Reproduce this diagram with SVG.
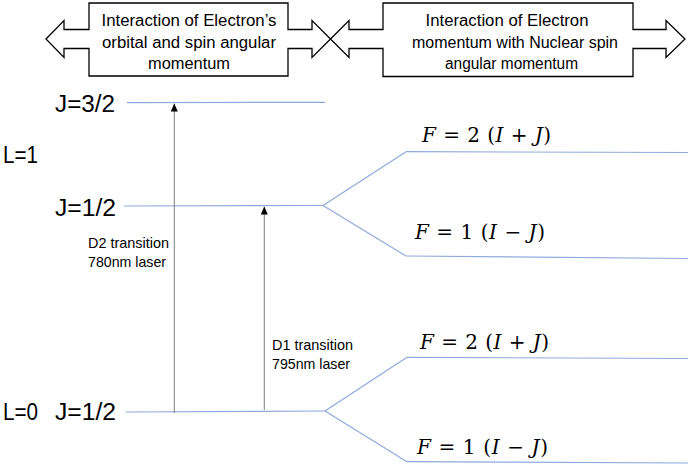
<svg xmlns="http://www.w3.org/2000/svg" width="688" height="467" viewBox="0 0 688 467">
<style>
.callout{fill:#fff;stroke:#000;stroke-width:1.3;stroke-linejoin:miter}
.ct{font-family:"Liberation Sans",Arial,sans-serif;font-size:16px;fill:#000;text-anchor:middle}
.lvl{fill:none;stroke:#8FAADC;stroke-width:1.2}
.big{font-family:"Liberation Sans",Arial,sans-serif;font-size:23px;fill:#000}
.small{font-family:"Liberation Sans",Arial,sans-serif;font-size:15px;fill:#000}
.math{font-family:"DejaVu Serif","Liberation Serif",serif;font-size:20px;fill:#000}
.it{font-style:italic}
.arr{stroke:#7F7F7F;stroke-width:1;fill:none}
</style>
<defs>
<marker id="ah" markerWidth="8" markerHeight="8" refX="8" refY="4" orient="auto" markerUnits="userSpaceOnUse">
<path d="M0,0.5 L8,4 L0,7.5 Z" fill="#000"/>
</marker>
</defs>
<rect width="688" height="467" fill="#fff"/>

<g id="callout-left">
<path class="callout" d="M46,39 L64,20.5 L64,29.5 L89,29.5 L89,3 L288,3 L288,29.5 L312,29.5 L312,20.5 L330.5,39 L312,57.5 L312,48.5 L288,48.5 L288,76 L89,76 L89,48.5 L64,48.5 L64,57.5 Z"/>
<text class="ct" x="189" y="26" textLength="175" lengthAdjust="spacingAndGlyphs">Interaction of Electron’s</text>
<text class="ct" x="189" y="47.5" textLength="174" lengthAdjust="spacingAndGlyphs">orbital and spin angular</text>
<text class="ct" x="189" y="69" textLength="82" lengthAdjust="spacingAndGlyphs">momentum</text>
</g>

<g id="callout-right">
<path class="callout" d="M330.5,39 L349,20.5 L349,29.5 L383,29.5 L383,3 L633,3 L633,29.5 L666,29.5 L666,20.5 L685,39 L666,57.5 L666,48.5 L633,48.5 L633,76.5 L383,76.5 L383,48.5 L349,48.5 L349,57.5 Z"/>
<text class="ct" x="507" y="26" textLength="163" lengthAdjust="spacingAndGlyphs">Interaction of Electron</text>
<text class="ct" x="515" y="47.5" textLength="206" lengthAdjust="spacingAndGlyphs">momentum with Nuclear spin</text>
<text class="ct" x="511.5" y="69" textLength="133" lengthAdjust="spacingAndGlyphs">angular momentum</text>
</g>

<g id="level-J32">
<line class="lvl" x1="127" y1="102.7" x2="325" y2="102.3"/>
<text class="big" x="55" y="112" textLength="60" lengthAdjust="spacingAndGlyphs">J=3/2</text>
</g>

<g id="label-L1">
<text class="big" x="3" y="163" textLength="35" lengthAdjust="spacingAndGlyphs">L=1</text>
</g>

<g id="level-J12-upper">
<line class="lvl" x1="124" y1="206" x2="323" y2="205.5"/>
<polyline class="lvl" points="406,151.7 323,205.5 406,256"/>
<text class="big" x="55" y="216" textLength="61" lengthAdjust="spacingAndGlyphs">J=1/2</text>
</g>

<g id="level-F2-upper">
<line class="lvl" x1="406" y1="151.7" x2="688" y2="152.5"/>
<text class="math" x="422" y="142" textLength="129" lengthAdjust="spacing"><tspan class="it">F</tspan> = 2 (<tspan class="it">I</tspan> + <tspan class="it">J</tspan>)</text>
</g>

<g id="level-F1-upper">
<line class="lvl" x1="406" y1="256" x2="688" y2="258.5"/>
<text class="math" x="415" y="238.5" textLength="130" lengthAdjust="spacing"><tspan class="it">F</tspan> = 1 (<tspan class="it">I</tspan> − <tspan class="it">J</tspan>)</text>
</g>

<g id="level-ground">
<line class="lvl" x1="126" y1="412" x2="325" y2="411"/>
<polyline class="lvl" points="407,357.3 325,411 407,461.7"/>
<text class="big" x="3" y="420" textLength="35" lengthAdjust="spacingAndGlyphs">L=0</text>
<text class="big" x="55" y="420" textLength="61" lengthAdjust="spacingAndGlyphs">J=1/2</text>
</g>

<g id="level-F2-lower">
<line class="lvl" x1="407" y1="357.3" x2="688" y2="358.5"/>
<text class="math" x="420" y="348.5" textLength="129" lengthAdjust="spacing"><tspan class="it">F</tspan> = 2 (<tspan class="it">I</tspan> + <tspan class="it">J</tspan>)</text>
</g>

<g id="level-F1-lower">
<line class="lvl" x1="407" y1="461.7" x2="688" y2="463"/>
<text class="math" x="417" y="453.5" textLength="131" lengthAdjust="spacing"><tspan class="it">F</tspan> = 1 (<tspan class="it">I</tspan> − <tspan class="it">J</tspan>)</text>
</g>

<g id="connectors">
<line class="arr" x1="174.3" y1="413" x2="174.3" y2="103.5" marker-end="url(#ah)"/>
<line class="arr" x1="264.3" y1="410" x2="264.3" y2="206.5" marker-end="url(#ah)"/>
</g>

<g id="label-D2">
<text class="small" x="88" y="248" textLength="81" lengthAdjust="spacingAndGlyphs">D2 transition</text>
<text class="small" x="88" y="267" textLength="78" lengthAdjust="spacingAndGlyphs">780nm laser</text>
</g>
<g id="label-D1">
<text class="small" x="272" y="349.5" textLength="81" lengthAdjust="spacingAndGlyphs">D1 transition</text>
<text class="small" x="272" y="368.5" textLength="78" lengthAdjust="spacingAndGlyphs">795nm laser</text>
</g>
</svg>
